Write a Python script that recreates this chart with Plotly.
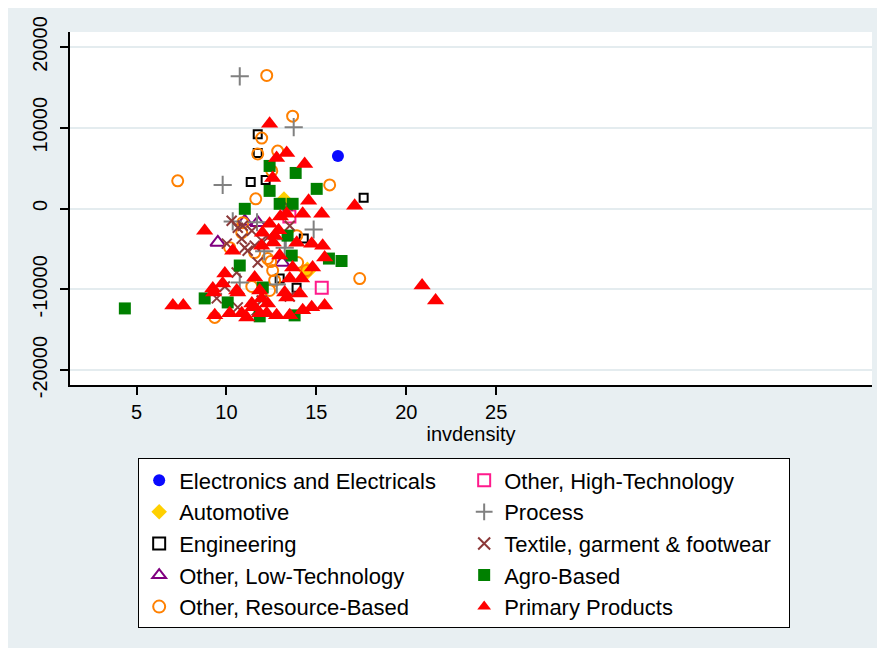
import plotly.graph_objects as go

# ---------------- data (invdensity, y) ----------------
electronics_x = [16.2]
electronics_y = [6500]

automotive_x = [13.2, 14.5]
automotive_y = [1000, -7700]

engineering_x = [11.74, 11.74, 11.35, 12.18, 17.63, 14.3, 12.96, 13.9]
engineering_y = [9200, 6870, 3290, 3540, 1320, -3700, -8670, -9800]

lowtech_x = [9.52, 11.02, 11.74, 13.1]
lowtech_y = [-4200, -1600, -1760, -6700]

resource_x = [12.24, 13.68, 11.96, 11.74, 12.85, 7.29, 15.74, 11.63, 12.52, 10.91,
              10.85, 10.18, 11.57, 12.29, 12.46, 12.57, 12.68, 11.41, 12.4, 9.35,
              13.91, 13.96, 17.41, 14.46]
resource_y = [16470, 11430, 8720, 6750, 7110, 3420, 2920, 1200, 4650, -1760,
              -3000, -4850, -5460, -6200, -6570, -7680, -8910, -9650, -10150, -13480,
              -3360, -6690, -8670, -7680]

hightech_x = [13.5, 15.3]
hightech_y = [-1000, -9800]

process_x = [10.74, 13.74, 9.79, 14.85, 10.35, 11.7, 13.24, 10.74, 12.1, 13.3, 12.8]
process_y = [16360, 10070, 2920, -2600, -1600, -1700, -4850, -9150, -5300, -3800, -9400]

textile_x = [10.29, 10.63, 10.02, 10.85, 11.41, 11.57, 11.18, 13.52, 13.41, 12.29,
             10.57, 9.91, 9.46, 10.63, 11.68, 10.91, 11.02, 11.96, 11.74, 11.96, 13.52]
textile_y = [-1510, -2380, -4350, -3740, -2750, -4600, -5220, -2130, 330, -3610,
             -7930, -9650, -11130, -12240, -12610, -2130, -4850, -3980, -6690, -11380, -10900]

agro_x = [4.35, 8.79, 10.07, 10.74, 11.02, 12.4, 12.4, 13.85, 15.02, 12.96,
          13.68, 13.4, 13.63, 15.7, 16.4, 12.02, 11.85, 13.79]
agro_y = [-12370, -11130, -11630, -7060, -40, 2180, 5270, 4400, 2430, 580,
          580, -3360, -5830, -6200, -6500, -9780, -13350, -13230]

primary_x = [12.4, 13.35, 12.79, 14.35, 12.57, 14.57, 17.13, 13.35, 14.24, 15.3,
             12.4, 12.68, 11.96, 8.79, 10.35, 13.91, 14.74, 15.35, 12.96, 15.46,
             13.68, 14.79, 13.52, 14.18, 11.57, 9.91, 9.24, 10.57, 11.85, 13.35,
             14.07, 13.24, 20.88, 21.63, 7.02, 7.6, 9.35, 10.18, 11.13, 11.96,
             11.46, 11.85, 12.79, 13.52, 14.24, 14.74, 15.46, 12.24, 12.29, 9.79,
             9.29, 10.63, 11.41, 10.85, 12.0, 12.6, 13.0, 12.9]
primary_y = [10500, 6870, 6250, 5510, 3790, 950, 330, -650, -650, -650,
             -1890, -3360, -4600, -2750, -5220, -4230, -4350, -4600, -5830, -6080,
             -7310, -7310, -8670, -8670, -8540, -8050, -9900, -10150, -10150, -11010,
             -10520, -10400, -9530, -11380, -12000, -12000, -13230, -12980, -13480, -11130,
             -12240, -12980, -13230, -13230, -12610, -12240, -12000, -12980, -11750, -9280,
             -10390, -10390, -11750, -12980, -3000, -4200, -1000, -2700]

x_ticks = [5, 10, 15, 20, 25]
y_ticks = [-20000, -10000, 0, 10000, 20000]
y_tick_labels = ["-20000", "-10000", "0", "10000", "20000"]

# ---------------- styling ----------------
# (name, x, y, symbol, color, size, line width, legend rank)
series = [
    ("Electronics and Electricals", electronics_x, electronics_y, "circle", "#0a0aff", 12, 0, 1),
    ("Automotive", automotive_x, automotive_y, "diamond", "#ffd000", 14, 0, 3),
    ("Engineering", engineering_x, engineering_y, "square-open", "#000000", 8, 2, 5),
    ("Other, Low-Technology", lowtech_x, lowtech_y, "triangle-up-open", "#800080", 13, 2, 7),
    ("Other, Resource-Based", resource_x, resource_y, "circle-open", "#ff8000", 11, 2, 9),
    ("Other, High-Technology", hightech_x, hightech_y, "square-open", "#ff1a8c", 12, 2, 2),
    ("Process", process_x, process_y, "cross-thin-open", "#808080", 13, 2, 4),
    ("Textile, garment & footwear", textile_x, textile_y, "x-thin-open", "#8c3a3a", 10, 2, 6),
    ("Agro-Based", agro_x, agro_y, "square", "#008000", 12, 0, 8),
    ("Primary Products", primary_x, primary_y, "triangle-up", "#ff0000", 15, 0, 10),
]

FONT = "Liberation Sans, Arial, sans-serif"
fig = go.Figure()
for name, xs, ys, sym, col, size, lw, rank in series:
    fig.add_trace(go.Scatter(
        x=xs, y=ys, mode="markers", name=name, legendrank=rank,
        marker=dict(symbol=sym, color=col, size=size,
                    line=dict(color=col, width=lw)),
    ))

bg = "#e8eff2"
fig.update_layout(
    width=874, height=640,
    paper_bgcolor=bg, plot_bgcolor="white",
    margin=dict(l=62, r=10, t=24, b=263, autoexpand=False),
    font=dict(family=FONT, size=20, color="black"),
    showlegend=True,
    legend=dict(
        orientation="h", x=0.085, xanchor="left", y=-0.208, yanchor="top",
        bgcolor="white", bordercolor="black", borderwidth=1,
        entrywidth=280, entrywidthmode="pixels",
        font=dict(family=FONT, size=22, color="black"),
        itemsizing="constant", traceorder="normal",
    ),
    xaxis=dict(
        range=[1.3, 45.9], tickvals=x_ticks, showgrid=False, zeroline=False,
        showline=True, linecolor="black", linewidth=2,
        ticks="outside", ticklen=8, tickwidth=2, tickcolor="black",
        tickfont=dict(size=20),
        title=dict(text="invdensity", font=dict(size=20), standoff=4),
    ),
    yaxis=dict(
        range=[-21850, 21850], tickvals=y_ticks, ticktext=y_tick_labels,
        showgrid=True, gridcolor="#e4ecef",
        gridwidth=2, zeroline=False,
        showline=True, linecolor="black", linewidth=2,
        ticks="outside", ticklen=8, tickwidth=2, tickcolor="black",
        tickangle=-90, tickfont=dict(size=20), ticklabelstandoff=5,
    ),
)

fig.write_html("out.html")
